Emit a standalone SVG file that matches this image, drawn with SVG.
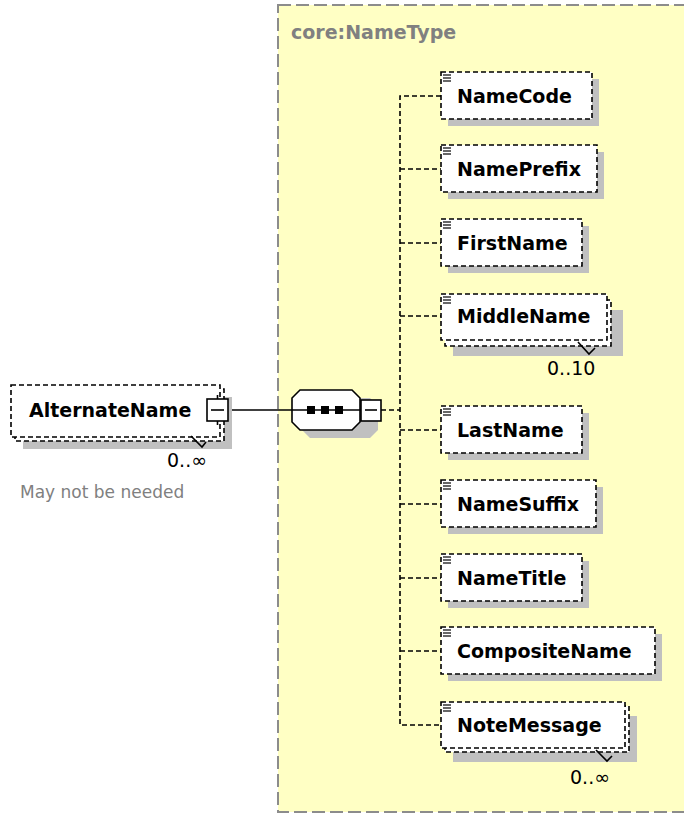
<svg xmlns="http://www.w3.org/2000/svg" width="684" height="815" viewBox="0 0 684 815">
<style>
.bg{fill:#ffffc4;stroke:#8c8c8c;stroke-width:2;stroke-dasharray:13,5}
.sh{fill:#c0c0c0}
.box{fill:#fff;stroke:#000;stroke-width:1.6;stroke-dasharray:5,3}
.lbl{font-family:"DejaVu Sans",sans-serif;font-weight:bold;font-size:19px;fill:#000}
.card{font-family:"DejaVu Sans",sans-serif;font-size:19px;fill:#000}
.title{font-family:"DejaVu Sans",sans-serif;font-weight:bold;font-size:19px;fill:#808080}
.note{font-family:"DejaVu Sans",sans-serif;font-size:17px;fill:#808080}
.dash{fill:none;stroke:#000;stroke-width:1.6;stroke-dasharray:5,3}
.solid{fill:none;stroke:#000;stroke-width:1.6}
.ic{stroke:#000;stroke-width:1.2}
</style>
<defs>
<g id="icon"><line class="ic" x1="443" y1="0" x2="451" y2="0"/><line class="ic" x1="443" y1="3" x2="451" y2="3"/><line class="ic" x1="443" y1="6" x2="451" y2="6"/></g>
</defs>
<rect class="bg" x="278" y="5" width="430" height="807"/>
<text class="title" x="291" y="39">core:NameType</text>

<g id="connectors">
<line class="solid" x1="228" y1="410" x2="361" y2="410"/>
<line class="dash" x1="381" y1="410" x2="400" y2="410"/>
<polyline class="dash" points="441,96 400,96 400,725 441,725"/>
<line class="dash" x1="400" y1="169" x2="441" y2="169"/>
<line class="dash" x1="400" y1="243" x2="441" y2="243"/>
<line class="dash" x1="400" y1="316" x2="441" y2="316"/>
<line class="dash" x1="400" y1="430" x2="441" y2="430"/>
<line class="dash" x1="400" y1="504" x2="441" y2="504"/>
<line class="dash" x1="400" y1="578" x2="441" y2="578"/>
<line class="dash" x1="400" y1="651" x2="441" y2="651"/>
</g>

<g id="AlternateName">
<rect class="sh" x="23" y="397" width="209" height="52"/>
<rect class="box" x="15" y="389" width="209" height="52"/>
<rect class="box" x="11" y="385" width="209" height="52"/>
<text class="lbl" x="29" y="417">AlternateName</text>
<rect x="207" y="399" width="21" height="22" fill="#fff" stroke="#000" stroke-width="1.6"/>
<line class="solid" x1="211" y1="410" x2="224" y2="410"/>
<line class="solid" x1="217.5" y1="395" x2="217.5" y2="399"/>
<line class="solid" x1="217.5" y1="421" x2="217.5" y2="425"/>
<polyline class="solid" points="191,436 202,447 206,442" stroke-width="1"/>
<text class="card" x="167" y="467">0..∞</text>
<text class="note" x="20" y="498">May not be needed</text>
</g>

<g id="sequence">
<polygon class="sh" points="310,398 370,398 378,406 378,430 370,438 310,438 302,430 302,406"/>
<polygon points="300,390 352,390 360,398 360,422 352,430 300,430 292,422 292,398" fill="#fff" stroke="#000" stroke-width="1.6"/>
<line class="solid" x1="292" y1="410" x2="361" y2="410"/>
<rect x="307" y="406" width="8" height="8" fill="#000"/>
<rect x="321" y="406" width="8" height="8" fill="#000"/>
<rect x="335" y="406" width="8" height="8" fill="#000"/>
<rect x="361" y="400" width="20" height="21" fill="#fff" stroke="#000" stroke-width="1.6"/>
<line class="solid" x1="365" y1="410" x2="377" y2="410"/>
</g>

<g id="NameCode">
<rect class="sh" x="448" y="79" width="151" height="47"/>
<rect class="box" x="441" y="72" width="151" height="47"/>
<use href="#icon" y="75"/>
<text class="lbl" x="457" y="103">NameCode</text>
</g>

<g id="NamePrefix">
<rect class="sh" x="448" y="152" width="156" height="47"/>
<rect class="box" x="441" y="145" width="156" height="47"/>
<use href="#icon" y="148"/>
<text class="lbl" x="457" y="176">NamePrefix</text>
</g>

<g id="FirstName">
<rect class="sh" x="448" y="226" width="141" height="47"/>
<rect class="box" x="441" y="219" width="141" height="47"/>
<use href="#icon" y="222"/>
<text class="lbl" x="457" y="250">FirstName</text>
</g>

<g id="MiddleName">
<rect class="sh" x="453" y="310" width="170" height="46"/>
<rect class="box" x="445" y="300" width="166" height="46"/>
<rect class="box" x="441" y="294" width="166" height="46"/>
<use href="#icon" y="297"/>
<text class="lbl" x="457" y="323">MiddleName</text>
<polyline class="solid" points="578,342 589,354 595,348" stroke-width="1"/>
<text class="card" x="547" y="375">0..10</text>
</g>

<g id="LastName">
<rect class="sh" x="448" y="413" width="141" height="47"/>
<rect class="box" x="441" y="406" width="141" height="47"/>
<use href="#icon" y="409"/>
<text class="lbl" x="457" y="437">LastName</text>
</g>

<g id="NameSuffix">
<rect class="sh" x="448" y="487" width="155" height="47"/>
<rect class="box" x="441" y="480" width="155" height="47"/>
<use href="#icon" y="483"/>
<text class="lbl" x="457" y="511">NameSuffix</text>
</g>

<g id="NameTitle">
<rect class="sh" x="448" y="561" width="141" height="47"/>
<rect class="box" x="441" y="554" width="141" height="47"/>
<use href="#icon" y="557"/>
<text class="lbl" x="457" y="585">NameTitle</text>
</g>

<g id="CompositeName">
<rect class="sh" x="448" y="634" width="214" height="47"/>
<rect class="box" x="441" y="627" width="214" height="47"/>
<use href="#icon" y="630"/>
<text class="lbl" x="457" y="658">CompositeName</text>
</g>

<g id="NoteMessage">
<rect class="sh" x="453" y="716" width="184" height="46"/>
<rect class="box" x="445" y="706" width="184" height="46"/>
<rect class="box" x="441" y="702" width="184" height="46"/>
<use href="#icon" y="705"/>
<text class="lbl" x="457" y="732">NoteMessage</text>
<polyline class="solid" points="596,750 607,761 612,756" stroke-width="1"/>
<text class="card" x="570" y="784">0..∞</text>
</g>
</svg>
